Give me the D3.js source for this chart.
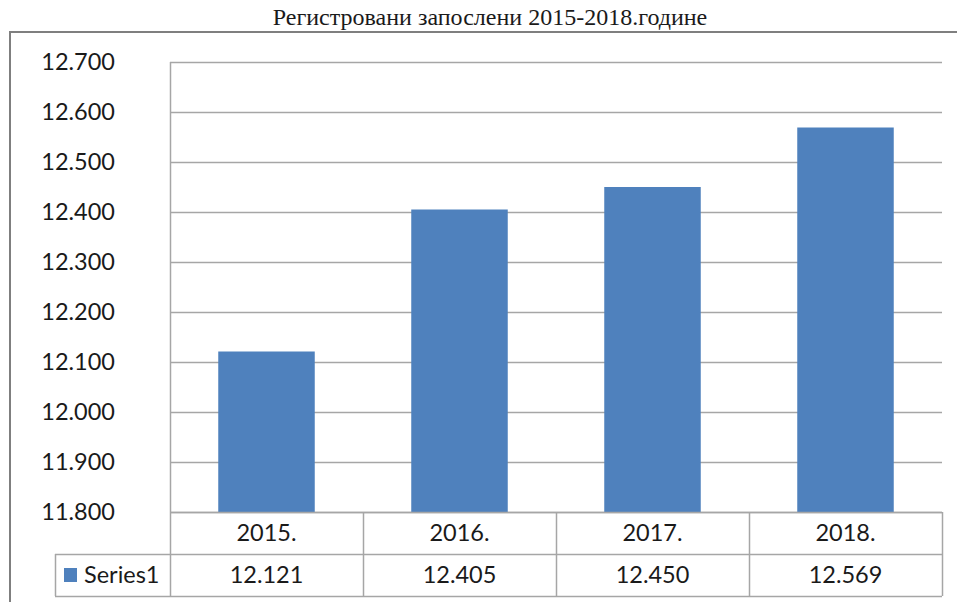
<!DOCTYPE html>
<html>
<head>
<meta charset="utf-8">
<script src="https://cdn.jsdelivr.net/npm/d3@7"></script>
<style>
  body { margin: 0; background: #fff; }
  svg text { fill: #1a1a1a; }
</style>
</head>
<body>
<div id="chart"></div>
<script>

var years = ["2015.", "2016.", "2017.", "2018."];
var values = [12121, 12405, 12450, 12569];
var yTicks = [11800, 11900, 12000, 12100, 12200, 12300, 12400, 12500, 12600, 12700];
var seriesName = "Series1";
var title = "Регистровани запослени 2015-2018.године";

var W = 957, H = 602;
// plot area
var plot = {left: 170, top: 62, right: 942, bottom: 512};
var rowH = 42;

var loc = d3.formatLocale({decimal: ",", thousands: ".", grouping: [3], currency: ["", ""]});
var fmt = loc.format(",.0f");

var svg = d3.select("#chart").append("svg")
  .attr("width", W)
  .attr("height", H);

// outer frame (runs off the right/bottom edge)
svg.append("rect")
  .attr("x", 10).attr("y", 32)
  .attr("width", W + 20).attr("height", H + 20)
  .attr("fill", "none")
  .attr("stroke", "#7f7f7f")
  .attr("stroke-width", 2);

svg.append("text")
  .attr("x", 490).attr("y", 25)
  .attr("text-anchor", "middle")
  .style("font-family", "'Liberation Serif', 'Times New Roman', serif")
  .style("font-size", "24px")
  .text(title);

var x = d3.scaleBand()
  .domain(years)
  .range([plot.left, plot.right])
  .paddingInner(0).paddingOuter(0);

var y = d3.scaleLinear()
  .domain([yTicks[0], yTicks[yTicks.length - 1]])
  .range([plot.bottom, plot.top]);

// gridlines
svg.append("g")
  .selectAll("line")
  .data(yTicks)
  .enter().append("line")
    .attr("x1", plot.left).attr("x2", plot.right)
    .attr("y1", function(d) { return Math.round(y(d)) + 0.5; })
    .attr("y2", function(d) { return Math.round(y(d)) + 0.5; })
    .attr("stroke", "#a6a6a6")
    .attr("stroke-width", 1.5);

var tfont = "Lato, 'Noto Sans', sans-serif";
var fsize = "23.5px";

// y axis labels
var yAxis = svg.append("g")
  .attr("transform", "translate(115,0)")
  .call(d3.axisLeft(y).tickValues(yTicks).tickFormat(fmt).tickSize(0).tickPadding(0));
yAxis.select(".domain").remove();
yAxis.selectAll("text")
  .style("font-family", tfont)
  .style("font-size", fsize)
  .attr("fill", "#1a1a1a");

// bars
svg.append("g")
  .selectAll("rect")
  .data(values)
  .enter().append("rect")
    .attr("x", function(d, i) { return x(years[i]) + x.bandwidth() * 0.25; })
    .attr("width", x.bandwidth() * 0.5)
    .attr("y", function(d) { return y(d); })
    .attr("height", function(d) { return plot.bottom - y(d); })
    .attr("fill", "#4f81bd");

// plot area left edge
svg.append("line")
  .attr("x1", plot.left + 0.5).attr("x2", plot.left + 0.5)
  .attr("y1", plot.top).attr("y2", plot.bottom + rowH * 2)
  .attr("stroke", "#a6a6a6").attr("stroke-width", 1.5);

// data table
var tbl = svg.append("g").attr("class", "table");
var lineC = "#a6a6a6";
var legLeft = 55;
var r1 = plot.bottom, r2 = plot.bottom + rowH, r3 = plot.bottom + rowH * 2;

tbl.append("line").attr("x1", plot.left).attr("x2", plot.right).attr("y1", r1 + 0.5).attr("y2", r1 + 0.5)
  .attr("stroke", lineC).attr("stroke-width", 1.5);
tbl.append("line").attr("x1", legLeft).attr("x2", plot.right).attr("y1", r2 + 0.5).attr("y2", r2 + 0.5)
  .attr("stroke", lineC).attr("stroke-width", 1.5);
tbl.append("line").attr("x1", legLeft).attr("x2", plot.right).attr("y1", r3 + 0.5).attr("y2", r3 + 0.5)
  .attr("stroke", lineC).attr("stroke-width", 1.5);
tbl.append("line").attr("x1", legLeft + 0.5).attr("x2", legLeft + 0.5).attr("y1", r2).attr("y2", r3)
  .attr("stroke", lineC).attr("stroke-width", 1.5);

tbl.selectAll("line.col")
  .data(years)
  .enter().append("line")
    .attr("class", "col")
    .attr("x1", function(d) { return x(d) + x.bandwidth() + 0.5; })
    .attr("x2", function(d) { return x(d) + x.bandwidth() + 0.5; })
    .attr("y1", r1).attr("y2", r3)
    .attr("stroke", lineC).attr("stroke-width", 1.5);

tbl.selectAll("text.year")
  .data(years)
  .enter().append("text")
    .attr("class", "year")
    .attr("x", function(d) { return x(d) + x.bandwidth() / 2; })
    .attr("y", r1 + rowH / 2)
    .attr("dy", "0.36em")
    .attr("text-anchor", "middle")
    .style("font-family", tfont).style("font-size", fsize)
    .text(function(d) { return d; });

tbl.selectAll("text.val")
  .data(values)
  .enter().append("text")
    .attr("class", "val")
    .attr("x", function(d, i) { return x(years[i]) + x.bandwidth() / 2; })
    .attr("y", r2 + rowH / 2)
    .attr("dy", "0.36em")
    .attr("text-anchor", "middle")
    .style("font-family", tfont).style("font-size", fsize)
    .text(function(d) { return fmt(d); });

// legend key
tbl.append("rect")
  .attr("x", 64).attr("y", r2 + rowH / 2 - 7)
  .attr("width", 13).attr("height", 14)
  .attr("fill", "#4f81bd");
tbl.append("text")
  .attr("x", 84).attr("y", r2 + rowH / 2)
  .attr("dy", "0.36em")
  .style("font-family", tfont).style("font-size", fsize)
  .text(seriesName);

</script>
</body>
</html>
